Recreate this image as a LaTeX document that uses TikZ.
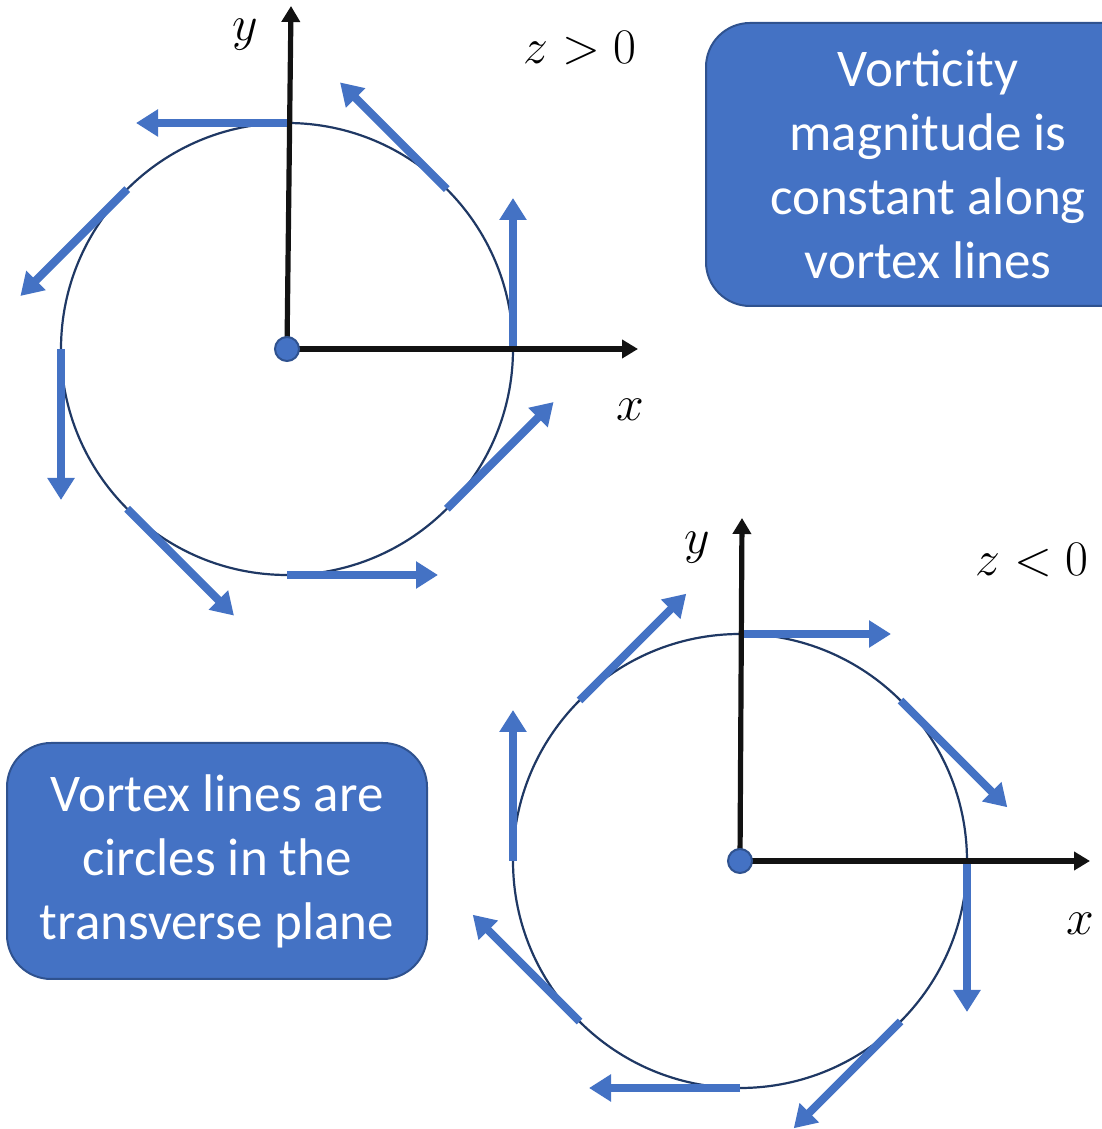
\documentclass[tikz,border=0pt]{standalone}
\usepackage{fontspec}
\newfontfamily\boxfont{Carlito}
\usetikzlibrary{arrows.meta, calc}

\definecolor{officeblue}{HTML}{4472C4}
\definecolor{boxedge}{HTML}{2F528F}
\definecolor{ringnavy}{HTML}{1F3864}

\begin{document}
\begin{tikzpicture}[
    x=0.5pt, y=0.5pt,
    axis/.style={line width=2.6pt, draw=black!93, -{Triangle[length=8pt, width=9pt]}},
    ring/.style={draw=ringnavy, line width=1.1pt},
    vec/.style={draw=officeblue, line width=4pt, -{Triangle[length=11pt, width=13pt]}},
    origin/.style={circle, fill=officeblue, draw=boxedge, line width=1pt, inner sep=0pt, minimum size=12pt},
    label/.style={font=\fontsize{26.5}{30}\selectfont},
    note/.style={rectangle, rounded corners=22pt, fill=officeblue, draw=boxedge, line width=1pt, text=white, align=center, font=\boxfont\fontsize{26.5}{32}\selectfont}
]
\useasboundingbox (0,0) rectangle (1102,1129);
\clip (0,0) rectangle (1102,1129);

% Top vortex (z > 0)
\coordinate (o1) at (287,780);
\coordinate (x1) at (638,780);
\coordinate (y1) at (291,1123);
\draw[ring] (o1) circle (226);
\foreach \a in {0,45,...,315}
    \draw[vec] ($(o1)+(\a:226)$) -- ++(\a+90:151);
\draw[axis] (o1) -- (x1);
\draw[axis] (o1) -- (y1);
\node[origin] (p1) at (o1) {};
\node[label] (ylab1) at (245,1094) {$y$};
\node[label] (xlab1) at (630,719) {$x$};
\node[label] (zlab1) at (580,1081) {$z>0$};

% Bottom vortex (z < 0)
\coordinate (o2) at (740,268);
\coordinate (x2) at (1090,268);
\coordinate (y2) at (742,611);
\draw[ring] (o2) circle (227);
\foreach \a in {0,45,...,315}
    \draw[vec] ($(o2)+(\a:227)$) -- ++(\a-90:151);
\draw[axis] (o2) -- (x2);
\draw[axis] (o2) -- (y2);
\node[origin] (p2) at (o2) {};
\node[label] (ylab2) at (697,581) {$y$};
\node[label] (xlab2) at (1080,205) {$x$};
\node[label] (zlab2) at (1032,569) {$z<0$};

% Text boxes
\node[note, minimum width=222pt, minimum height=141.5pt] (magnitude) at (928,964.5)
    {Vorticity\\magnitude is\\constant along\\vortex lines};
\node[note, minimum width=210pt, minimum height=118pt] (circles) at (217,268)
    {Vortex lines are\\circles in the\\transverse plane};

\end{tikzpicture}
\end{document}
